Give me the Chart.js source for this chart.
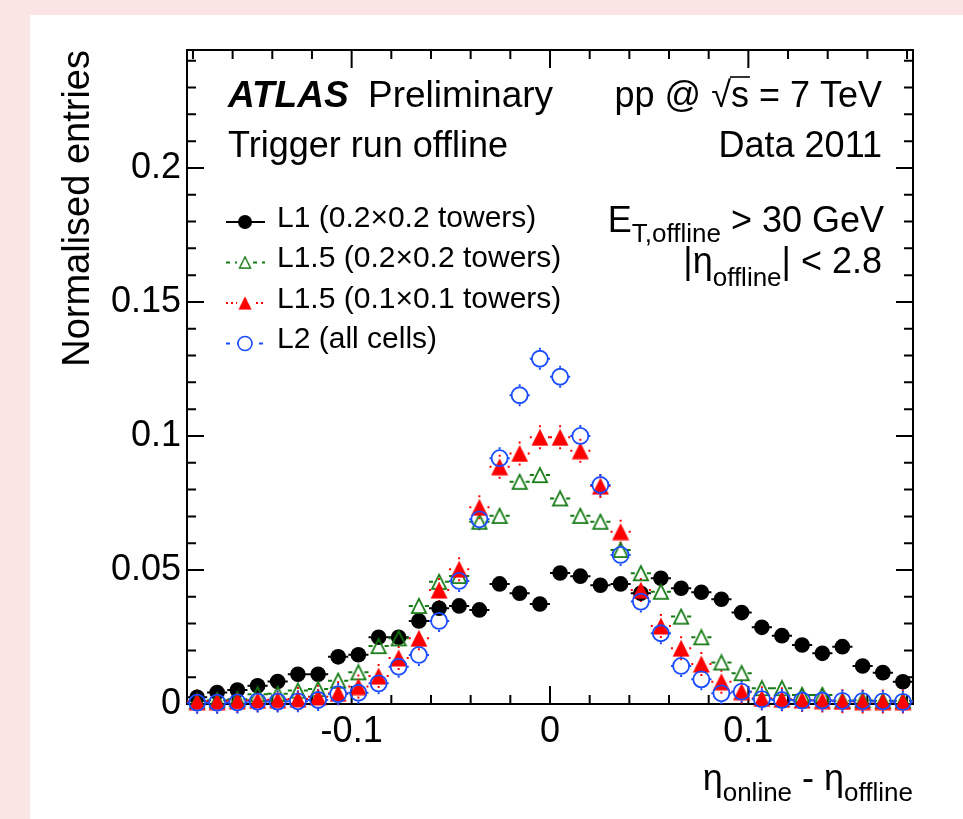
<!DOCTYPE html>
<html><head><meta charset="utf-8">
<script src="https://cdn.jsdelivr.net/npm/chart.js@4"></script>
<style>
html,body{margin:0;padding:0;background:#fbe4e4;overflow:hidden;}
#wrap{position:absolute;left:0;top:0;width:963px;height:819px;}
#panel{position:absolute;left:30px;top:15px;width:933px;height:804px;background:#fff;}
#c{position:absolute;left:0;top:0;}
</style></head>
<body><div id="wrap"><div id="panel"></div><canvas id="c" width="963" height="819" style="width:963px;height:819px"></canvas></div>
<script>
// ---------- data ----------
const binCenters = [-0.1779,-0.1678,-0.1576,-0.1474,-0.1373,-0.1271,-0.1169,-0.1068,-0.0966,-0.0864,-0.0763,-0.0661,-0.0559,-0.0458,-0.0356,-0.0254,-0.0153,-0.0051,
                     0.0051,0.0153,0.0254,0.0356,0.0458,0.0559,0.0661,0.0763,0.0864,0.0966,0.1068,0.1169,0.1271,0.1373,0.1474,0.1576,0.1678,0.1779];
const binWidth = 0.01017;
const l1Towers02 = [0.0025,0.0043,0.0052,0.0068,0.0084,0.0111,0.0111,0.0176,0.0184,0.0249,0.0249,0.0310,0.0357,0.0366,0.0351,0.0448,0.0413,0.0373,
                    0.0489,0.0477,0.0443,0.0448,0.0413,0.0469,0.0432,0.0417,0.0391,0.0341,0.0286,0.0255,0.0220,0.0189,0.0214,0.0142,0.0117,0.0083];
const l15Towers02 = [0.0010,0.0014,0.0018,0.0036,0.0038,0.0050,0.0056,0.0087,0.0118,0.0216,0.0245,0.0366,0.0456,0.0478,0.0680,0.0702,0.0829,0.0854,
                     0.0767,0.0702,0.0680,0.0575,0.0488,0.0419,0.0326,0.0249,0.0155,0.0115,0.0059,0.0059,0.0034,0.0034,0.0012,0.0014,0.0012,0.0012];
const l15Towers01 = [0.0009,0.0009,0.0012,0.0014,0.0016,0.0019,0.0027,0.0040,0.0065,0.0104,0.0172,0.0245,0.0425,0.0503,0.0734,0.0885,0.0935,0.0995,
                     0.0995,0.0945,0.0813,0.0643,0.0425,0.0291,0.0208,0.0149,0.0083,0.0046,0.0021,0.0018,0.0015,0.0013,0.0010,0.0009,0.0009,0.0009];
const l2AllCells = [0.0005,0.0005,0.0006,0.0009,0.0009,0.0010,0.0015,0.0037,0.0042,0.0077,0.0139,0.0183,0.0310,0.0459,0.0689,0.0917,0.1152,0.1288,
                    0.1221,0.1000,0.0817,0.0556,0.0382,0.0264,0.0142,0.0092,0.0040,0.0046,0.0018,0.0015,0.0013,0.0013,0.0012,0.0011,0.0010,0.0008];
const seriesLabels = ['L1 (0.2×0.2 towers)','L1.5 (0.2×0.2 towers)','L1.5 (0.1×0.1 towers)','L2 (all cells)'];
const xTickValues = [-0.1, 0, 0.1];
const xTickLabels = ['-0.1', '0', '0.1'];
const yTickValues = [0, 0.05, 0.1, 0.15, 0.2];
const yTickLabels = ['0', '0.05', '0.1', '0.15', '0.2'];
const xMinorTicks = [-0.18,-0.16,-0.14,-0.12,-0.08,-0.06,-0.04,-0.02,0.02,0.04,0.06,0.08,0.12,0.14,0.16,0.18];
const yMinorTicks = [0.01,0.02,0.03,0.04,0.06,0.07,0.08,0.09,0.11,0.12,0.13,0.14,0.16,0.17,0.18,0.19,0.21,0.22,0.23,0.24];

// ---------- styles ----------
const FONT = "'Liberation Sans', Arial, Helvetica, sans-serif";
const GREEN = '#147a14', RED = '#ff0000', BLUE = '#1a4cff', BLACK = '#000000';

function triCanvas(size, fill, stroke, lw){
  const c = document.createElement('canvas');
  c.width = size; c.height = size;
  const g = c.getContext('2d');
  const m = lw ? 1 + lw/2 : 0.5;
  g.beginPath();
  g.moveTo(size/2, m); g.lineTo(size - m, size - m); g.lineTo(m, size - m); g.closePath();
  if (fill){ g.fillStyle = fill; g.fill(); }
  if (stroke){ g.strokeStyle = stroke; g.lineWidth = lw; g.lineJoin='miter'; g.stroke(); }
  return c;
}
const greenTri = triCanvas(18, null, GREEN, 1.8);
const redTri = triCanvas(18, RED, null, 0);

const series = [
  {values:l1Towers02, color:BLACK, style:'circle', radius:7.8, fill:BLACK, bw:0, gap:0, vstub:0, dash:[], order:4},
  {values:l15Towers02, color:GREEN, style:greenTri, radius:9, fill:'rgba(0,0,0,0)', bw:0, gap:6, vstub:0, dash:[4,5], order:3},
  {values:l15Towers01, color:RED, style:redTri, radius:9, fill:RED, bw:0, gap:9, vstub:2, dash:[2,3], order:2},
  {values:l2AllCells, color:BLUE, style:'circle', radius:8, fill:'rgba(0,0,0,0)', bw:1.8, gap:8, vstub:2, dash:[4,7], order:1},
];

const datasets = series.map((s, i) => ({
  label: seriesLabels[i],
  data: binCenters.map((x, k) => ({x: x, y: s.values[k]})),
  showLine: false,
  pointStyle: s.style,
  pointRadius: s.radius,
  pointHoverRadius: s.radius,
  pointBackgroundColor: s.fill,
  pointBorderColor: s.color,
  pointBorderWidth: s.bw,
  borderColor: s.color,
  backgroundColor: s.fill,
  clip: false,
  order: s.order
}));

// ---------- frame, ticks, error bars ----------
const framePlugin = {
  id: 'frame',
  beforeDatasetsDraw(chart){
    const {ctx, chartArea:a, scales:{x, y}} = chart;
    ctx.save();
    ctx.strokeStyle = '#000'; ctx.lineWidth = 2; ctx.setLineDash([]);
    ctx.strokeRect(a.left, a.top, a.right - a.left, a.bottom - a.top);
    ctx.beginPath();
    const xt = (v, len) => { const p = x.getPixelForValue(v);
      ctx.moveTo(p, a.bottom); ctx.lineTo(p, a.bottom - len);
      ctx.moveTo(p, a.top); ctx.lineTo(p, a.top + len); };
    const yt = (v, len) => { const p = y.getPixelForValue(v);
      ctx.moveTo(a.left, p); ctx.lineTo(a.left + len, p);
      ctx.moveTo(a.right, p); ctx.lineTo(a.right - len, p); };
    xTickValues.forEach(v => xt(v, 18));
    xMinorTicks.forEach(v => xt(v, 9));
    yTickValues.forEach(v => yt(v, 17));
    yMinorTicks.forEach(v => yt(v, 9));
    ctx.stroke();
    // error bars (drawn outside the marker)
    series.forEach((s) => {
      ctx.strokeStyle = s.color; ctx.lineWidth = 2;
      ctx.beginPath();
      binCenters.forEach((cx, k) => {
        const px = x.getPixelForValue(cx), py = y.getPixelForValue(s.values[k]);
        const hl = x.getPixelForValue(cx + binWidth/2) - px;
        const hg = Math.min(s.gap, hl - 2);
        ctx.moveTo(px - hl, py); ctx.lineTo(px - hg, py);
        ctx.moveTo(px + hg, py); ctx.lineTo(px + hl, py);
        if (s.vstub){
          ctx.moveTo(px, py - s.gap - 1); ctx.lineTo(px, py - s.gap - 1 - s.vstub);
          ctx.moveTo(px, py + s.gap + 1); ctx.lineTo(px, py + s.gap + 1 + s.vstub);
        }
      });
      ctx.stroke();
    });
    ctx.restore();
  }
};

// ---------- texts & legend ----------
function fnt(size, bold, italic){ return (italic ? 'italic ' : '') + (bold ? 'bold ' : '') + size + 'px ' + FONT; }
function rich(ctx, parts, x, y, align){
  const w = parts.map(p => { ctx.font = fnt(p.size, p.bold, p.italic); return ctx.measureText(p.t).width; });
  const total = w.reduce((a, b) => a + b, 0);
  let cx = align === 'right' ? x - total : x;
  const pos = [];
  parts.forEach((p, i) => {
    ctx.font = fnt(p.size, p.bold, p.italic);
    ctx.fillText(p.t, cx, y + (p.dy || 0));
    pos.push({x: cx, w: w[i]});
    cx += w[i];
  });
  return pos;
}

const textPlugin = {
  id: 'texts',
  afterDraw(chart){
    const ctx = chart.ctx;
    const a = chart.chartArea;
    ctx.save();
    ctx.fillStyle = '#000';
    ctx.textBaseline = 'alphabetic';
    ctx.textAlign = 'left';
    // ATLAS label
    ctx.font = fnt(37, true, true); ctx.fillText('ATLAS', 228, 107);
    ctx.font = fnt(37); ctx.fillText('Preliminary', 368, 107);
    ctx.font = fnt(36); ctx.fillText('Trigger run offline', 228, 157);
    // pp @ sqrt(s) = 7 TeV
    const pos = rich(ctx, [{t:'pp @ ', size:36}, {t:'\u221A', size:36}, {t:'s', size:36}, {t:' = 7 TeV', size:36}], 882, 107, 'right');
    ctx.strokeStyle = '#000'; ctx.lineWidth = 1.6;
    ctx.beginPath(); ctx.moveTo(pos[1].x + pos[1].w - 1, 107 - 30); ctx.lineTo(pos[2].x + pos[2].w + 1, 107 - 30); ctx.stroke();
    rich(ctx, [{t:'Data 2011', size:36}], 882, 157, 'right');
    rich(ctx, [{t:'E', size:36}, {t:'T,offline', size:26, dy:10}, {t:' > 30 GeV', size:36}], 884, 232, 'right');
    rich(ctx, [{t:'|\u03B7', size:36}, {t:'offline', size:26, dy:13}, {t:'| < 2.8', size:36}], 882, 273, 'right');
    // x title
    rich(ctx, [{t:'\u03B7', size:36}, {t:'online', size:26, dy:11}, {t:' - \u03B7', size:36}, {t:'offline', size:26, dy:11}], a.right, 790, 'right');
    // y title
    ctx.save();
    ctx.translate(89, a.top); ctx.rotate(-Math.PI/2);
    ctx.font = fnt(38); ctx.textAlign = 'right';
    ctx.fillText('Normalised entries', 0, 0);
    ctx.restore();
    // legend
    const rowsY = [222, 262.5, 303, 343.5];
    series.forEach((s, i) => {
      const yy = rowsY[i];
      ctx.strokeStyle = s.color; ctx.lineWidth = 2; ctx.setLineDash(s.dash);
      ctx.beginPath(); ctx.moveTo(226, yy); ctx.lineTo(265, yy); ctx.stroke();
      ctx.setLineDash([]);
      if (typeof s.style !== 'string'){
        ctx.clearRect(237, yy - 7, 16, 14);
        ctx.drawImage(s.style, 238, yy - 7, 14, 14);
      } else {
        ctx.beginPath(); ctx.arc(245, yy, 7, 0, Math.PI*2);
        if (s.bw){ ctx.fillStyle = '#fff'; ctx.fill(); ctx.lineWidth = 1.6; ctx.strokeStyle = s.color; ctx.stroke(); }
        else { ctx.fillStyle = s.fill; ctx.fill(); }
      }
      ctx.fillStyle = '#000';
      ctx.font = fnt(30); ctx.textAlign = 'left';
      ctx.fillText(seriesLabels[i], 277, yy + 4.5);
    });
    ctx.restore();
  }
};

new Chart(document.getElementById('c'), {
  type: 'scatter',
  data: { datasets },
  options: {
    responsive: false, animation: false,
    events: [],
    layout: { padding: { left: 0, right: 50, top: 50, bottom: 0 } },
    plugins: { legend: { display: false }, tooltip: { enabled: false } },
    scales: {
      x: {
        type: 'linear', min: -0.183, max: 0.183,
        grid: { display: false, drawTicks: false }, border: { display: false },
        afterBuildTicks: s => { s.ticks = xTickValues.map(v => ({ value: v })); },
        afterFit: s => { s.height = 115; },
        ticks: { color: '#000', font: { family: FONT, size: 36 }, padding: 6, maxRotation: 0, autoSkip: false,
                 callback: (v, i) => xTickLabels[i] }
      },
      y: {
        type: 'linear', min: 0, max: 0.244,
        grid: { display: false, drawTicks: false }, border: { display: false },
        afterBuildTicks: s => { s.ticks = yTickValues.map(v => ({ value: v })); },
        afterFit: s => { s.width = 187; },
        ticks: { color: '#000', font: { family: FONT, size: 36 }, padding: 6, autoSkip: false,
                 callback: (v, i) => yTickLabels[i] }
      }
    }
  },
  plugins: [framePlugin, textPlugin]
});
</script>
</body></html>
